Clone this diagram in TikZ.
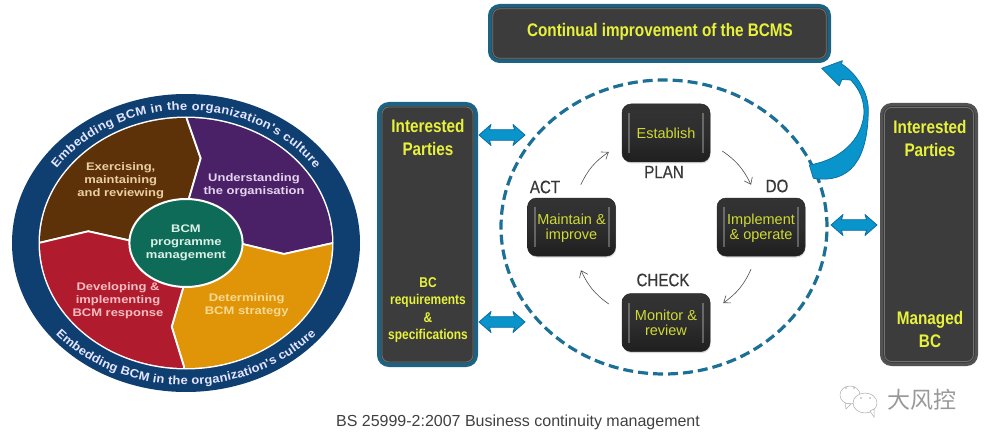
\documentclass[tikz,border=0pt]{standalone}
\usepackage{fontspec}
\setmainfont{Liberation Sans}
\newfontfamily\narrowf[FakeStretch=0.84]{Liberation Sans}
\newfontfamily\phasef[FakeStretch=0.84,FakeBold=0.5]{Liberation Sans}
\newfontfamily\widef[FakeStretch=1.18]{Liberation Sans}
\newfontfamily\ringf[FakeStretch=1.08]{Liberation Sans}
\newfontfamily\cjkf{Noto Sans CJK SC}
\usetikzlibrary{shapes.geometric,arrows.meta,shadows,decorations.text}
\definecolor{ringnavy}{HTML}{0F3F70}
\definecolor{secbrown}{HTML}{5E3208}
\definecolor{secpurple}{HTML}{4A2166}
\definecolor{secorange}{HTML}{E09408}
\definecolor{secred}{HTML}{B01B2E}
\definecolor{secteal}{HTML}{0E6B58}
\definecolor{txtbrown}{HTML}{EBCFA4}
\definecolor{txtpurple}{HTML}{E4D2EE}
\definecolor{txtorange}{HTML}{F7DA90}
\definecolor{txtred}{HTML}{F6BEC0}
\definecolor{txtteal}{HTML}{DCF0E8}
\definecolor{boxteal}{HTML}{1C6282}
\definecolor{boxgrey}{HTML}{3C3C3C}
\definecolor{hiyellow}{HTML}{E8F23A}
\definecolor{loopteal}{HTML}{1C7096}
\definecolor{arrowblue}{HTML}{0A94CC}
\definecolor{arrowedge}{HTML}{0B6E9C}
\tikzset{
  sector/.style={draw=white,line width=1.8pt,line join=round},
  wheeltext/.style={inner sep=0pt,align=center,font=\widef\bfseries\fontsize{11}{12.9}\selectfont},
  bigbox/.style={rounded corners=10pt,inner sep=0pt,fill=boxgrey,
    drop shadow={shadow xshift=1pt,shadow yshift=-1.5pt,opacity=.25},
    path picture={\draw[white,opacity=.28,line width=.8pt,rounded corners=7pt]
      ([xshift=3pt,yshift=-3pt]path picture bounding box.north west) rectangle
      ([xshift=-3pt,yshift=3pt]path picture bounding box.south east);}},
  stepbox/.style={rounded corners=9pt,inner sep=0pt,minimum width=88pt,minimum height=58pt,
    top color=black!80,bottom color=black!88,middle color=black!82,
    draw=black!85,line width=.5pt,align=center,text=hiyellow!90!black,
    font=\fontsize{14.5}{15}\selectfont,
    drop shadow={shadow xshift=.6pt,shadow yshift=-1.5pt,opacity=.3},
    path picture={
      \fill[white,opacity=.28,sharp corners] ([xshift=6pt,yshift=-9pt]path picture bounding box.north west) rectangle
        ([xshift=8pt,yshift=9pt]path picture bounding box.south west);
      \fill[white,opacity=.28,sharp corners] ([xshift=-6pt,yshift=-9pt]path picture bounding box.north east) rectangle
        ([xshift=-8pt,yshift=9pt]path picture bounding box.south east);}},
  boxtext/.style={inner sep=0pt,text=hiyellow,font=\narrowf\bfseries\fontsize{18.2}{18.2}\selectfont},
  smalltext/.style={inner sep=0pt,text=hiyellow,font=\narrowf\bfseries\fontsize{14.2}{14.2}\selectfont},
  phase/.style={inner sep=0pt,text=black!78,font=\phasef\fontsize{18}{18}\selectfont},
  thinflow/.style={-{Straight Barb[length=6pt,width=9pt]},line width=.6pt,draw=black!70},
  linkarrow/.pic={\filldraw[fill=arrowblue,draw=arrowedge,line width=.8pt,line join=round]
    (-23,0) -- (-11,-10.5) -- (-12.5,-5.3) -- (12.5,-5.3) -- (11,-10.5) -- (23,0) -- (11,10.5) -- (12.5,5.3) -- (-12.5,5.3) -- (-11,10.5) -- cycle;},
  wechat/.style={draw=black!32,line width=.5pt,fill=white}
}
\begin{document}
\begin{tikzpicture}[x=1pt,y=-1pt]
\useasboundingbox (0,0) rectangle (988,441);
% wheel
\fill[ringnavy] (186,243) ellipse [x radius=174pt,y radius=149pt];
\fill[white] (186,243) ellipse [x radius=147.5pt,y radius=126.5pt];
\begin{scope}
\clip (186,243) ellipse [x radius=146pt,y radius=125pt];
\filldraw[sector,fill=secbrown] (186,100) -- (186.7,118.3) -- (200.7,158.3) -- (189,198.3) -- (186,243) -- (135,241.7) -- (88.3,231.3) -- (41.7,242.3) -- (25,246) -- (25,100) -- cycle;
\filldraw[sector,fill=secpurple] (186,100) -- (186.7,118.3) -- (200.7,158.3) -- (189,198.3) -- (186,243) -- (237.3,242.7) -- (284,254) -- (331.7,243.3) -- (345,240) -- (345,100) -- cycle;
\filldraw[sector,fill=secorange] (345,240) -- (331.7,243.3) -- (284,254) -- (237.3,242.7) -- (186,243) -- (183.3,287.3) -- (171.7,326.7) -- (184,366.7) -- (184,385) -- (345,385) -- cycle;
\filldraw[sector,fill=secred] (184,385) -- (184,366.7) -- (171.7,326.7) -- (183.3,287.3) -- (186,243) -- (135,241.7) -- (88.3,231.3) -- (41.7,242.3) -- (25,246) -- (25,385) -- cycle;
\end{scope}
\node[ellipse,draw=white,line width=2pt,fill=secteal,minimum width=100pt,minimum height=88pt,inner sep=0pt,text=txtteal,align=center,font=\widef\bfseries\fontsize{11}{13}\selectfont] (core) at (186,243) {BCM\\programme\\management};
\node[wheeltext,text=txtbrown] (exer) at (120.7,180.5) {Exercising,\\maintaining\\and reviewing};
\node[wheeltext,text=txtpurple] (under) at (254,185.5) {Understanding\\the organisation};
\node[wheeltext,text=txtred] (devel) at (118,300.5) {Developing \&\\implementing\\BCM response};
\node[wheeltext,text=txtorange] (deter) at (246.7,305.5) {Determining\\BCM strategy};
\path[decorate,decoration={text along path,text align={fit to path},
  text={|\ringf\bfseries\fontsize{12}{12}\selectfont\color{white!90!blue}|Embedding BCM in the organization's culture}}]
  plot[domain=146:34,samples=90] ({186+156*cos(\x)},{243-133*sin(\x)});
\path[decorate,decoration={text along path,text align={fit to path},
  text={|\ringf\bfseries\fontsize{12}{12}\selectfont\color{white!90!blue}|Embedding BCM in the organization's culture}}]
  plot[domain=220:320,samples=90] ({186+170*cos(\x)},{243-142*sin(\x)});
% PDCA loop
\node[ellipse,draw=loopteal,line width=3.2pt,dash pattern=on 10pt off 5pt,minimum width=326pt,minimum height=294pt,inner sep=0pt] (loop) at (664,227) {};
\node[stepbox] (establish) at (666,133) {Establish};
\node[stepbox] (maintain) at (571.5,227) {\rule{0pt}{14pt}Maintain \&\\improve};
\node[stepbox] (implement) at (761,227) {\rule{0pt}{14pt}Implement\\\& operate};
\node[stepbox] (monitor) at (666,322.5) {Monitor \&\\review};
\node[phase] (plan) at (664,172) {PLAN};
\node[phase] (act) at (545,187) {ACT};
\node[phase] (do) at (777,186) {DO};
\node[phase] (check) at (663,280) {CHECK};
\draw[thinflow] ([xshift=-35pt,yshift=13pt]maintain.north east) to[bend left=15] ([xshift=-13pt,yshift=-19pt]establish.west);
\draw[thinflow] ([xshift=12pt,yshift=-18pt]establish.east) to[bend left=15] ([xshift=-10pt,yshift=13pt]implement.north);
\draw[thinflow] ([xshift=-10pt,yshift=-13pt]implement.south) to[bend left=15] ([xshift=13pt,yshift=19.5pt]monitor.east);
\draw[thinflow] ([xshift=-13pt,yshift=18.5pt]monitor.west) to[bend left=15] ([xshift=9.5pt,yshift=-14pt]maintain.south);
% boxes
\node[bigbox,draw=boxteal,line width=3.5pt,minimum width=339.5pt,minimum height=55.5pt] (improve) at (659.5,33.5) {};
\node[boxtext] (improvet) at (660,32) {Continual improvement of the BCMS};
\node[bigbox,draw=boxteal,line width=4pt,minimum width=97pt,minimum height=261pt] (leftbox) at (427.5,234.5) {};
\node[boxtext] (li) at (428,126) {Interested};
\node[boxtext] (lp) at (428,149) {Parties};
\node[smalltext] (l1) at (428,283) {BC};
\node[smalltext] (l2) at (428,300.5) {requirements};
\node[smalltext] (l3) at (428,318) {\&};
\node[smalltext] (l4) at (428,336) {specifications};
\node[bigbox,draw=black!68,line width=3pt,minimum width=95pt,minimum height=260pt] (rightbox) at (929,234.5) {};
\node[boxtext] (ri) at (930,127) {Interested};
\node[boxtext] (rp) at (930,150) {Parties};
\node[boxtext] (rm) at (930,320) {Managed};
\node[boxtext] (rb) at (930,341) {BC};
% link arrows
\pic at (502,135) {linkarrow};
\pic at (502,322) {linkarrow};
\pic at (854,225) {linkarrow};
% improvement arrow
\filldraw[fill=arrowblue,draw=arrowedge,line width=.7pt,line join=round]
  (813.3,178.3) .. controls (850,184) and (868,160) .. (868.3,110)
  .. controls (868.5,92) and (856,73) .. (841.7,64) -- (842.3,60.7) -- (821.7,68.3) -- (839.3,86) -- (842,79.5) -- (850.7,80)
  .. controls (860,90) and (864,100) .. (864,113.3)
  .. controls (862,140) and (840,160) .. (809.3,165) -- cycle;
% caption
\node[inner sep=0pt,text=black!75,font=\fontsize{16}{16}\selectfont] (caption) at (518,422) {BS 25999-2:2007 Business continuity management};
% watermark
\filldraw[wechat] (850,395) ellipse [x radius=10pt,y radius=9pt];
\filldraw[wechat] (845,403) -- (846,409) -- (851,404) -- cycle;
\filldraw[wechat] (865,403) ellipse [x radius=12pt,y radius=10pt];
\filldraw[wechat] (870,411) -- (874,417) -- (874,409) -- cycle;
\fill[black!35] (846,388) circle (.9pt) (854,388) circle (.9pt) (861,398) circle (.9pt) (870,398) circle (.9pt);
\node[inner sep=0pt,text=black!40,font=\cjkf\fontsize{23}{23}\selectfont] (mark) at (922,400) {大风控};
\end{tikzpicture}
\end{document}
